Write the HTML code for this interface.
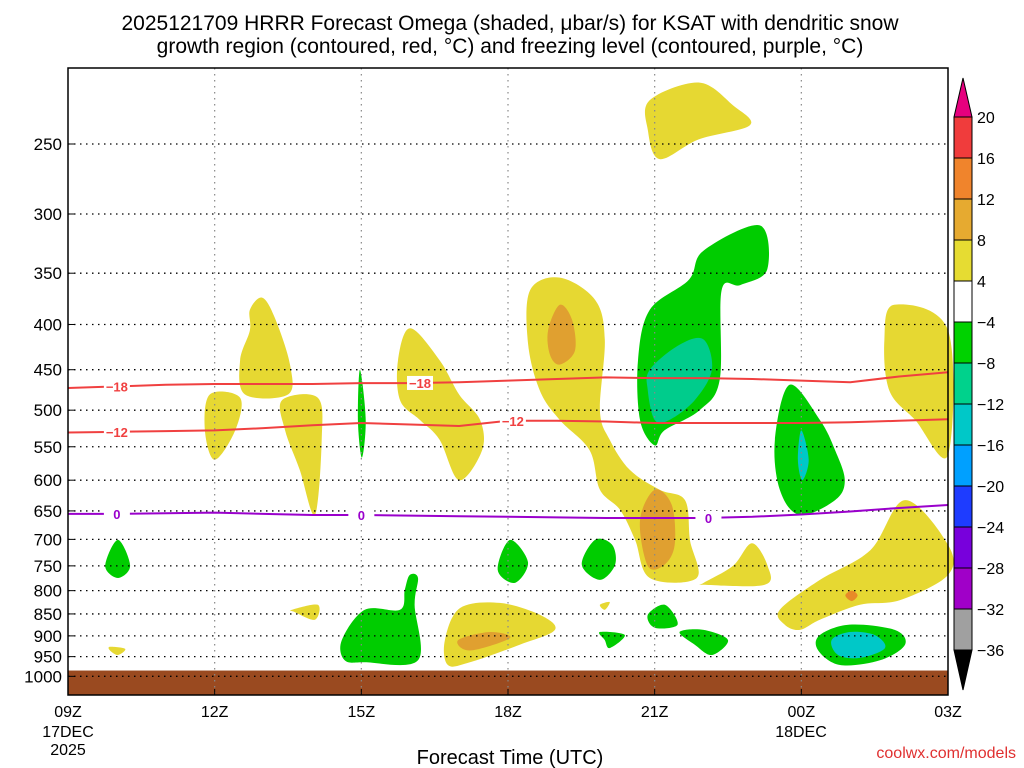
<!DOCTYPE html>
<html><head><meta charset="utf-8"><style>
body{margin:0;background:#fff;width:1024px;height:768px;overflow:hidden;font-family:"Liberation Sans",sans-serif}
svg{display:block}
</style></head><body>
<svg id="c" width="1024" height="768" xmlns="http://www.w3.org/2000/svg">
<text x="510" y="30" text-anchor="middle" font-size="21">2025121709 HRRR Forecast Omega (shaded, μbar/s) for KSAT with dendritic snow</text>
<text x="510" y="53" text-anchor="middle" font-size="21">growth region (contoured, red, °C) and freezing level (contoured, purple, °C)</text>
<g id="shade"></g><g id="grid"></g><g id="lines"></g><g id="axes"></g><g id="cbar"></g>
<text x="510" y="764" text-anchor="middle" font-size="20">Forecast Time (UTC)</text>
<text x="1016" y="758" text-anchor="end" font-size="16" fill="#e03030">coolwx.com/models</text>
</svg>
<script>
const pTicks=[250,300,350,400,450,500,550,600,650,700,750,800,850,900,950,1000];
const xTickHours=[0,3,6,9,12,15,18];
const xTickLabels=["09Z","12Z","15Z","18Z","21Z","00Z","03Z"];
const cbLevels=[20,16,12,8,4,-4,-8,-12,-16,-20,-24,-28,-32,-36];
const cbColors=["#f03c3c","#f0842c","#e6aa30","#e6dc32","#ffffff","#00d200","#00d28c","#00c8c8","#00a0ff","#1e3cff","#7800dc","#a000c8","#a0a0a0"];
const lineHours=[0,1,2,3,4,5,6,7,8,9,10,11,12,13,14,15,16,17,18];
const dgzMinus18=[472,470,468,467,467,467,466,466,465,463,461,459,460,460,461,463,465,458,453];
const dgzMinus12=[530,529,528,527,524,520,517,519,521,514,514,515,517,517,517,517,516,514,512];
const freezing0=[655,655,654,653,655,657,657,658,659,660,661,662,662,662,660,656,651,645,640];
const Y="#e6d832",G="#00cc00",T="#00cc8c",O="#e0a030",TC="#00c8c8",OR="#e88a28";
const areas=[
[Y,[[11.9,223],[12.9,213],[13.6,226],[13.95,238],[12.9,247],[12.1,260],[11.86,241]]],
[Y,[[9.45,366],[10.06,354],[10.78,375],[10.98,416],[10.88,500],[11.08,540],[11.49,584],[12.1,615],[12.62,632],[12.72,701],[12.86,774],[11.9,774],[11.6,701],[11.29,648],[10.88,615],[10.67,555],[10.06,513],[9.65,475],[9.41,420]]],
[O,[[9.82,406],[10.06,380],[10.31,395],[10.37,428],[10.06,444],[9.86,433]]],
[O,[[11.7,666],[12.0,615],[12.35,640],[12.41,710],[12.2,748],[11.86,750]]],
[G,[[13.0,330],[14.15,309],[14.3,347],[13.75,361],[13.37,366],[13.33,462],[12.92,500],[12.2,527],[12.0,548],[11.7,513],[11.66,439],[11.9,385],[12.7,356]]],
[T,[[11.9,450],[12.5,422],[13.0,416],[13.17,450],[12.82,487],[12.3,513],[12.0,513],[11.86,475]]],
[Y,[[6.75,439],[7.0,404],[7.6,439],[8.0,480],[8.43,513],[8.47,555],[8.0,600],[7.6,540],[7.2,513],[6.79,487]]],
[Y,[[3.72,385],[3.97,373],[4.23,393],[4.54,444],[4.5,480],[3.62,480],[3.52,439],[3.72,406]]],
[Y,[[2.9,480],[3.52,484],[3.42,527],[3.0,569],[2.8,527]]],
[Y,[[4.38,487],[5.11,484],[5.19,540],[5.05,657],[4.74,584],[4.44,527]]],
[G,[[5.97,450],[6.09,513],[6.01,566],[5.93,513]]],
[G,[[1.02,701],[1.27,750],[1.02,774],[0.76,750]]],
[G,[[9.04,701],[9.41,743],[9.14,784],[8.79,758]]],
[G,[[10.78,701],[11.13,710],[11.19,748],[10.88,778],[10.51,748]]],
[Y,[[13.0,784],[13.6,750],[13.99,707],[14.31,750],[14.25,788],[13.0,788]]],
[G,[[14.76,468],[15.38,513],[15.69,555],[15.89,600],[15.69,632],[14.97,657],[14.56,615],[14.46,540]]],
[TC,[[15.0,527],[15.15,569],[15.02,600],[14.93,569]]],
[Y,[[16.9,380],[18,406],[18,562],[17.33,513],[16.8,475],[16.7,416]]],
[Y,[[14.56,841],[15.38,778],[16.41,720],[17.12,632],[18,710],[18,768],[17.02,820],[16.2,830],[15.38,863],[14.97,886],[14.66,874]]],
[OR,[[15.9,810],[16.03,800],[16.15,810],[16.03,822]]],
[G,[[15.38,898],[15.99,874],[16.91,886],[17.12,921],[16.61,959],[15.79,971],[15.34,934]]],
[TC,[[15.62,910],[15.99,891],[16.5,898],[16.71,929],[16.2,953],[15.75,946]]],
[G,[[5.6,910],[6.07,841],[6.79,841],[6.89,798],[6.99,768],[7.16,774],[7.09,830],[7.16,959],[6.07,964],[5.66,959]]],
[Y,[[7.71,910],[8.02,837],[8.83,826],[9.65,852],[9.96,886],[9.24,921],[8.22,964],[7.77,971]]],
[O,[[7.98,910],[8.63,891],[9.04,905],[8.22,935]]],
[Y,[[4.58,841],[5.11,830],[5.05,863],[4.64,846]]],
[Y,[[0.86,926],[1.17,931],[1.02,946],[0.86,935]]],
[G,[[11.86,852],[12.21,830],[12.47,874],[12.0,881]]],
[G,[[10.88,891],[11.39,898],[11.08,929],[10.98,910]]],
[G,[[12.51,891],[13.0,886],[13.5,910],[13.17,946],[12.82,921]]],
[Y,[[10.88,830],[11.08,824],[10.98,841]]]
];
const X0=68,X1=948,PY0=144;
const xs=h=>X0+h*(X1-X0)/18;
const ys=p=>PY0+384*Math.log(p/250);
const NS="http://www.w3.org/2000/svg";
function mk(tag,parent,attrs){const e=document.createElementNS(NS,tag);for(const k in attrs)e.setAttribute(k,attrs[k]);document.getElementById(parent).appendChild(e);return e;}
function smooth(pts){let d="";const n=pts.length;for(let i=0;i<n;i++){const p0=pts[(i-1+n)%n],p1=pts[i],p2=pts[(i+1)%n],p3=pts[(i+2)%n];if(i===0)d+="M"+p1[0]+","+p1[1];const c1=[p1[0]+(p2[0]-p0[0])/6,p1[1]+(p2[1]-p0[1])/6],c2=[p2[0]-(p3[0]-p1[0])/6,p2[1]-(p3[1]-p1[1])/6];d+="C"+c1+" "+c2+" "+p2;}return d+"Z";}
areas.forEach((a,i)=>{const pts=a[1].map(q=>[xs(q[0]).toFixed(1),ys(q[1]).toFixed(1)].map(Number));
const e=mk("path","shade",{d:smooth(pts),fill:a[0]});

});
const g=mk("rect","shade",{x:X0,y:ys(985),width:X1-X0,height:695-ys(985),fill:"#9a4a20"});


pTicks.forEach(p=>{const y=ys(p);
const l=mk("line","grid",{x1:X0,x2:X1,y1:y,y2:y,stroke:"#000","stroke-dasharray":"1.5 4.5","stroke-width":1.3});


const t=mk("text","axes",{x:62,y:y+6,"text-anchor":"end","font-size":17});t.textContent=p;


mk("line","axes",{x1:X0,x2:X0+6,y1:y,y2:y,stroke:"#000"});});
xTickHours.forEach((h,i)=>{const x=xs(h);
if(i>0&&i<6){const l=mk("line","grid",{x1:x,x2:x,y1:68,y2:695,stroke:"#888","stroke-dasharray":"1.5 4.5","stroke-width":1.2});

}
const t=mk("text","axes",{x:x,y:717,"text-anchor":"middle","font-size":16});t.textContent=xTickLabels[i];


mk("line","axes",{x1:x,x2:x,y1:695,y2:689,stroke:"#000"});});
[["17DEC",68,737],["2025",68,755],["18DEC",801,737]].forEach(d=>{const t=mk("text","axes",{x:d[1],y:d[2],"text-anchor":"middle","font-size":16});t.textContent=d[0];

});
const fr=mk("rect","axes",{x:X0,y:68,width:X1-X0,height:627,fill:"none",stroke:"#000","stroke-width":1.5});


function drawLine(vals,color,name,labels,lbl){const d=vals.map((p,i)=>(i?"L":"M")+xs(lineHours[i])+","+ys(p)).join("");
const e=mk("path","lines",{d:d,fill:"none",stroke:color,"stroke-width":2});


labels.forEach(h=>{const i=Math.floor(h),f=h-i,p=vals[i]+(vals[i+1]-vals[i])*f,x=xs(h),y=ys(p);
mk("rect","lines",{x:x-13,y:y-7,width:26,height:14,fill:"#fff"});
const t=mk("text","lines",{x:x,y:y+5,"text-anchor":"middle","font-size":13,"font-weight":"bold",fill:color});t.textContent=lbl;

});}
drawLine(dgzMinus18,"#f04040","dgz-minus18-contour",[1.0,7.2],"−18");
drawLine(dgzMinus12,"#f04040","dgz-minus12-contour",[1.0,9.1],"−12");
drawLine(freezing0,"#9a00cc","freezing-level-contour",[1.0,6.0,13.1],"0");
const CX=954,CW=18,CT=117,CS=41;
cbColors.forEach((c,i)=>{const r=mk("rect","cbar",{x:CX,y:CT+i*CS,width:CW,height:CS,fill:c,stroke:"#000"});

});
const tt=mk("path","cbar",{d:`M${CX},${CT}L${CX+CW/2},78L${CX+CW},${CT}Z`,fill:"#e6007e",stroke:"#000"});


const bt=mk("path","cbar",{d:`M${CX},${CT+13*CS}L${CX+CW/2},690L${CX+CW},${CT+13*CS}Z`,fill:"#000",stroke:"#000"});


cbLevels.forEach((v,i)=>{const t=mk("text","cbar",{x:977,y:CT+i*CS+6,"font-size":16});t.textContent=v<0?"−"+(-v):v;

});
</script>
</body></html>
